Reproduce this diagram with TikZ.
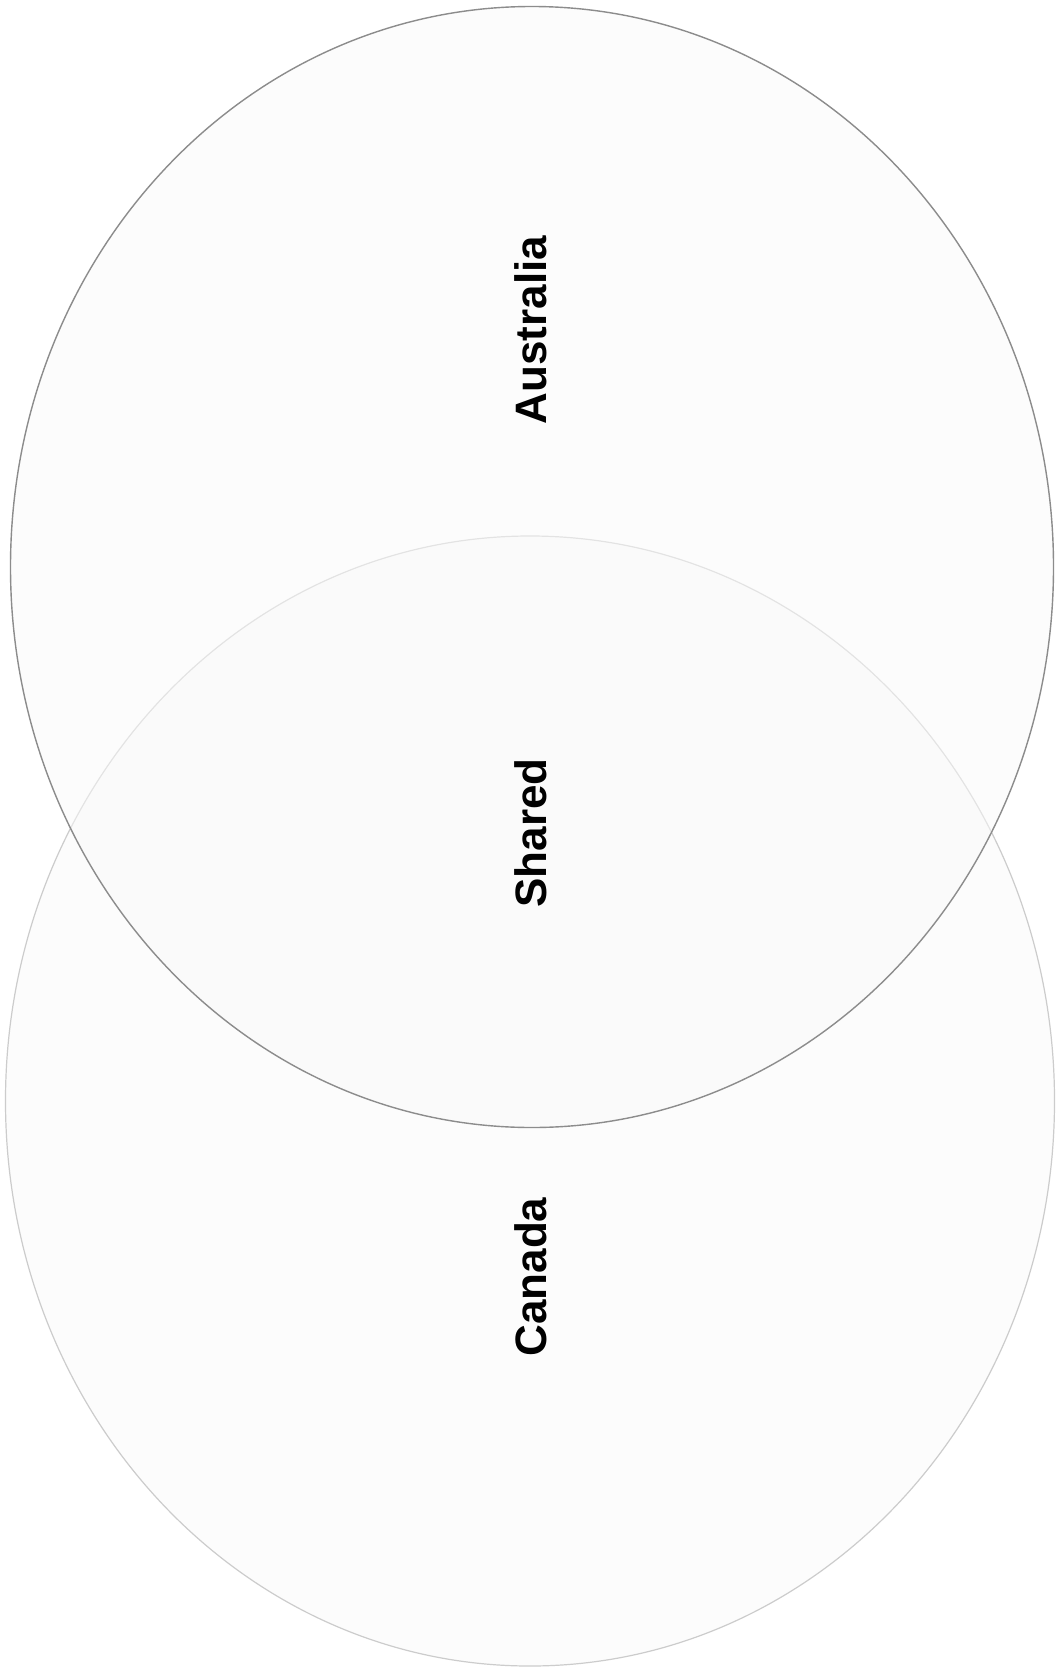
\documentclass[tikz,border=0pt]{standalone}
\usepackage{fontspec}
\setmainfont{Liberation Sans}
\usetikzlibrary{shapes.geometric}
\begin{document}
\begin{tikzpicture}[x=1pt,y=-1pt,
  setshape/.style={ellipse, inner sep=0pt, outer sep=0pt},
  labeltext/.style={rotate=90, inner sep=0pt, font=\bfseries\fontsize{44}{50}\selectfont, text=black}]
\useasboundingbox[fill=white] (0,0) rectangle (1055,1673);
\node[setshape, draw=black!20, line width=1.2pt, fill=black!2, fill opacity=0.5,
      minimum width=1049pt, minimum height=1130pt] (can) at (530,1101) {};
\node[setshape, draw=black!45, line width=1.4pt, fill=black!2, fill opacity=0.5,
      minimum width=1043pt, minimum height=1121pt] (aus) at (532,567) {};
\node[labeltext] (lAus) at (531,330) {Australia};
\node[labeltext] (lShared) at (531,833) {Shared};
\node[labeltext] (lCan) at (531,1277) {Canada};
\end{tikzpicture}
\end{document}
